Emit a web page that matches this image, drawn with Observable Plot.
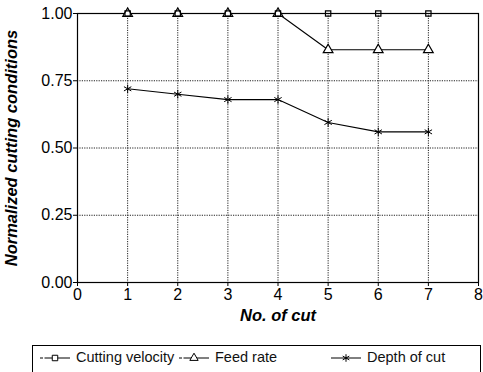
<!DOCTYPE html>
<html>
<head>
<meta charset="utf-8">
<script src="https://cdn.jsdelivr.net/npm/d3@7"></script>
<script src="https://cdn.jsdelivr.net/npm/@observablehq/plot@0.6"></script>
<style>
  html, body { margin: 0; padding: 0; background: #fff; }
  body { width: 483px; height: 372px; position: relative; overflow: hidden; font-family: "Liberation Sans", Arial, sans-serif; }
  #chart svg { display: block; }
  [aria-label="x-axis label"] text, [aria-label="y-axis label"] text { font-weight: bold; font-style: italic; font-size: 16.5px; }
  #legend { position: absolute; left: 32px; top: 345px; width: 449px; height: 40px; border: 1px solid #000; box-sizing: border-box; }
  .item { position: absolute; top: 3px; font-size: 14.5px; color: #111; white-space: nowrap; }
  .item svg { vertical-align: middle; margin-right: 6px; }
</style>
</head>
<body>
<div id="chart"></div>
<div id="legend"></div>
<script>
const cuts = [1, 2, 3, 4, 5, 6, 7];
const cuttingVelocity = [1.00, 1.00, 1.00, 1.00, 1.00, 1.00, 1.00];
const feedRate = [1.00, 1.00, 1.00, 1.00, 0.865, 0.865, 0.865];
const depthOfCut = [0.72, 0.70, 0.68, 0.68, 0.595, 0.56, 0.56];
const xTicks = [0, 1, 2, 3, 4, 5, 6, 7, 8];
const yTicks = [0, 0.25, 0.5, 0.75, 1.0];
const seriesNames = ["Cutting velocity", "Feed rate", "Depth of cut"];
const seriesSymbols = ["square", "triangle", "asterisk"];

const seriesValues = [cuttingVelocity, feedRate, depthOfCut];
const data = seriesNames.flatMap((name, i) =>
  cuts.map((c, j) => ({series: name, cut: c, value: seriesValues[i][j]})));

const chart = Plot.plot({
  width: 483,
  height: 330,
  marginLeft: 77,
  marginRight: 5,
  marginTop: 13,
  marginBottom: 48,
  style: {fontFamily: "'Liberation Sans', Arial, sans-serif", fontSize: "16px", color: "#000", background: "#fff"},
  x: {domain: [0, 8], ticks: xTicks},
  y: {domain: [0, 1], ticks: yTicks},
  symbol: {domain: seriesNames, range: seriesSymbols},
  marks: [
    Plot.gridX(xTicks.slice(1, -1), {stroke: "#222", strokeOpacity: 1, strokeDasharray: "1.2,1.2"}),
    Plot.gridY(yTicks.slice(1, -1), {stroke: "#222", strokeOpacity: 1, strokeDasharray: "1.2,1.2"}),
    Plot.frame({stroke: "#000", strokeWidth: 1.2}),
    Plot.axisX({ticks: xTicks, tickSize: 4, tickPadding: 2, tickFormat: d => String(d),
      label: "No. of cut", labelAnchor: "center", labelArrow: "none", labelOffset: 38}),
    Plot.axisY({ticks: yTicks, tickSize: 4, tickPadding: 1, tickFormat: d3.format(".2f"),
      label: "Normalized cutting conditions", labelAnchor: "center", labelArrow: "none", labelOffset: 72}),
    Plot.line(data, {x: "cut", y: "value", z: "series", stroke: "#000", strokeWidth: 1.1}),
    Plot.dot(data.filter(d => d.series === "Depth of cut"), {x: "cut", y: "value", symbol: "series", r: 4, stroke: "#000", strokeWidth: 1}),
    Plot.dot(data.filter(d => d.series === "Feed rate"), {x: "cut", y: "value", symbol: "series", r: 3.6, fill: "#fff", stroke: "#000", strokeWidth: 1.2}),
    Plot.dot(data.filter(d => d.series === "Cutting velocity"), {x: "cut", y: "value", symbol: "series", r: 3, fill: "none", stroke: "#000", strokeWidth: 1.2})
  ]
});
document.getElementById("chart").appendChild(chart);

// Legend
const legendX = [7, 146, 298];
const legend = document.getElementById("legend");
seriesNames.forEach((name, i) => {
  const item = document.createElement("div");
  item.className = "item";
  item.style.left = legendX[i] + "px";
  const sym = d3.symbol(d3[{square: "symbolSquare", triangle: "symbolTriangle", asterisk: "symbolAsterisk"}[seriesSymbols[i]]], i === 2 ? 40 : 30)();
  item.innerHTML = `<svg width="30" height="12"><line x1="0" x2="30" y1="6" y2="6" stroke="#000" stroke-width="1" ${i < 2 ? 'stroke-dasharray="3,1.5,30"' : ''}/><path d="${sym}" transform="translate(15,6)" fill="${i === 2 ? 'none' : '#fff'}" stroke="#000" stroke-width="1"/></svg>${name}`;
  legend.appendChild(item);
});
</script>
</body>
</html>
